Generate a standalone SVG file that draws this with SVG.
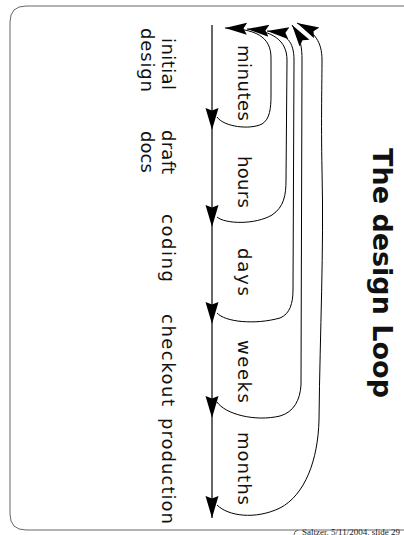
<svg xmlns="http://www.w3.org/2000/svg" width="404" height="535" viewBox="0 0 404 535">
<style>
.lbl{font-family:"DejaVu Sans","Liberation Sans",sans-serif;font-size:18px;fill:#111}
.ttl{font-family:"DejaVu Sans","Liberation Sans",sans-serif;font-size:27px;font-weight:bold;fill:#111}
.ftr{font-family:"Liberation Serif",serif;font-size:7.5px;fill:#222}
.frame{fill:none;stroke:#666;stroke-width:1}
.main{fill:none;stroke:#000;stroke-width:1.2}
.loop{fill:none;stroke:#000;stroke-width:1}
</style>
<defs>
<marker id="ah" markerUnits="userSpaceOnUse" markerWidth="24" markerHeight="14" refX="22" refY="6.5" orient="auto">
<path d="M0,0 L22,6.5 L0,13 L2.5,6.5 z" fill="#000"/>
</marker>
<marker id="la" markerUnits="userSpaceOnUse" markerWidth="24" markerHeight="14" refX="22" refY="6" orient="auto">
<path d="M0,0 L22,6 L0,12 L3.5,6 z" fill="#000"/>
</marker>
</defs>
<g id="frame">
<path class="frame" d="M404,6 L26,6 Q10,6 10,22 L10,514 Q10,530 26,530 L404,530"/>
<path class="frame" d="M298,530 Q294,531 294,535"/>
<text class="ftr" x="302" y="534.5" textLength="98" lengthAdjust="spacingAndGlyphs">Saltzer. 5/11/2004. slide 29</text>
</g>
<g id="title"><text class="ttl" transform="translate(373,148) rotate(90)" textLength="250" lengthAdjust="spacing">The design Loop</text></g>
<g id="stage-initial-design">
<text class="lbl" transform="translate(162,38) rotate(90)" textLength="52" lengthAdjust="spacing">initial</text>
<text class="lbl" transform="translate(141,28) rotate(90)" textLength="64" lengthAdjust="spacing">design</text>
</g>
<g id="stage-draft-docs">
<text class="lbl" transform="translate(162,130) rotate(90)" textLength="44" lengthAdjust="spacing">draft</text>
<text class="lbl" transform="translate(141,131) rotate(90)" textLength="42" lengthAdjust="spacing">docs</text>
</g>
<g id="stage-coding"><text class="lbl" transform="translate(162,214) rotate(90)" textLength="68" lengthAdjust="spacing">coding</text></g>
<g id="stage-checkout"><text class="lbl" transform="translate(162,314) rotate(90)" textLength="92" lengthAdjust="spacing">checkout</text></g>
<g id="stage-production"><text class="lbl" transform="translate(162,418) rotate(90)" textLength="106" lengthAdjust="spacing">production</text></g>
<g id="loop-minutes"><text class="lbl" transform="translate(238,45) rotate(90)" textLength="76" lengthAdjust="spacing">minutes</text></g>
<g id="loop-hours"><text class="lbl" transform="translate(238,156) rotate(90)" textLength="52" lengthAdjust="spacing">hours</text></g>
<g id="loop-days"><text class="lbl" transform="translate(238,248) rotate(90)" textLength="48" lengthAdjust="spacing">days</text></g>
<g id="loop-weeks"><text class="lbl" transform="translate(238,340) rotate(90)" textLength="63" lengthAdjust="spacing">weeks</text></g>
<g id="loop-months"><text class="lbl" transform="translate(238,432) rotate(90)" textLength="73" lengthAdjust="spacing">months</text></g>
<g id="connectors">
<path class="main" d="M212,25 L212,130" marker-end="url(#ah)"/>
<path class="main" d="M212,130 L212,227" marker-end="url(#ah)"/>
<path class="main" d="M212,227 L212,324" marker-end="url(#ah)"/>
<path class="main" d="M212,324 L212,418" marker-end="url(#ah)"/>
<path class="main" d="M212,418 L212,518" marker-end="url(#ah)"/>
<path class="loop" d="M217,117 C224,127 250,130 262,124 C270,119 271,108 271,95 L271,58 C271,36 255,29 225,28" marker-end="url(#la)"/>
<path class="loop" d="M217,217 C225,224 255,225 272,215 C284,207 286,195 286,180 L287,60 C287,40 272,31 247,29" marker-end="url(#la)"/>
<path class="loop" d="M217,313 C225,322 255,325 280,318 C290,314 293,303 293,290 L294,60 C294,42 287,33 267,31" marker-end="url(#la)"/>
<path class="loop" d="M217,402 C225,414 255,422 280,416 C294,412 300,400 301,385 L302,60 C302,48 301,38 292,25" marker-end="url(#la)"/>
<path class="loop" d="M217,505 C228,516 255,520 280,508 C305,495 318,460 319,420 C320,330 324,250 322,170 C321,120 322,80 322,60 C322,42 315,32 297,23" marker-end="url(#la)"/>
</g>
</svg>
